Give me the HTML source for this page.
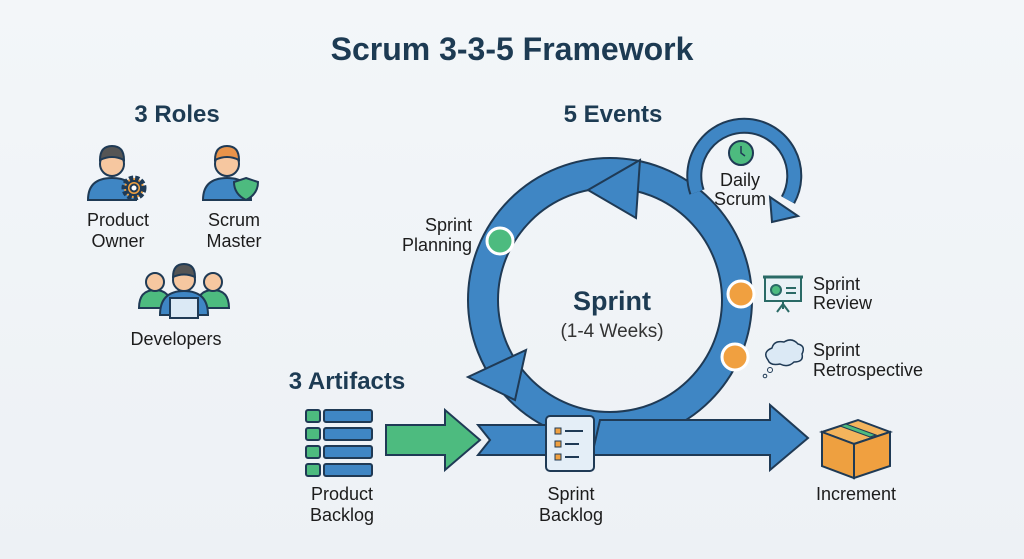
<!DOCTYPE html>
<html><head><meta charset="utf-8"><style>
body{margin:0;width:1024px;height:559px;background:linear-gradient(180deg,#f3f6f9,#edf1f5);overflow:hidden}
svg{display:block}
text{font-family:"Liberation Sans",sans-serif;fill:#1c1c1c}
.h{font-weight:bold;fill:#1d3b53}
</style></head><body>
<svg width="1024" height="559" viewBox="0 0 1024 559">
<text x="512" y="60" text-anchor="middle" class="h" font-size="32">Scrum 3-3-5 Framework</text>
<text x="177" y="122" text-anchor="middle" class="h" font-size="24">3 Roles</text>
<text x="613" y="122" text-anchor="middle" class="h" font-size="24">5 Events</text>
<text x="347" y="389" text-anchor="middle" class="h" font-size="24">3 Artifacts</text>

<g stroke="#1f3a55" stroke-width="2">
 <path d="M88 200 q0-22 24-22 q24 0 24 22z" fill="#3f86c4"/>
 <circle cx="112" cy="164" r="12" fill="#f6c7a0"/>
 <path d="M100 160 q0-14 12-14 q12 0 12 14 q-12-6-24 0z" fill="#555"/>
 <circle cx="134" cy="188" r="10" fill="#f0a040" stroke-dasharray="4 2" stroke-width="5"/>
 <circle cx="134" cy="188" r="7" fill="#f0a040"/><circle cx="134" cy="188" r="3.5" fill="#fff"/>
 <path d="M203 200 q0-22 24-22 q24 0 24 22z" fill="#3f86c4"/>
 <circle cx="227" cy="164" r="12" fill="#f6c7a0"/>
 <path d="M215 160 q0-14 12-14 q12 0 12 14 q-12-6-24 0z" fill="#e8934a"/>
 <path d="M246 178 l12 4 q0 12 -12 18 q-12-6-12-18z" fill="#4dbb7f"/>
 <path d="M139 308 q0-18 16-18 q16 0 16 18z M197 308 q0-18 16-18 q16 0 16 18z" fill="#4dbb7f"/>
 <circle cx="155" cy="282" r="9" fill="#f6c7a0"/><circle cx="213" cy="282" r="9" fill="#f6c7a0"/>
 <path d="M160 315 q0-24 24-24 q24 0 24 24z" fill="#3f86c4"/>
 <circle cx="184" cy="280" r="11" fill="#f6c7a0"/>
 <path d="M173 277 q0-13 11-13 q11 0 11 13 q-11-5-22 0z" fill="#555"/>
 <rect x="170" y="298" width="28" height="20" fill="#dbe9f5"/>
</g>
<text x="118" y="226" text-anchor="middle" font-size="18">Product</text>
<text x="118" y="247" text-anchor="middle" font-size="18">Owner</text>
<text x="234" y="226" text-anchor="middle" font-size="18">Scrum</text>
<text x="234" y="247" text-anchor="middle" font-size="18">Master</text>
<text x="176" y="345" text-anchor="middle" font-size="18">Developers</text>

<!-- ring -->
<circle cx="610" cy="300" r="127" fill="none" stroke="#1f3a55" stroke-width="32"/>
<circle cx="610" cy="300" r="127" fill="none" stroke="#3f86c4" stroke-width="28"/>
<!-- daily loop -->
<path d="M697 192 A50 50 0 1 1 788 200" fill="none" stroke="#1f3a55" stroke-width="16"/>
<path d="M697 192 A50 50 0 1 1 788 200" fill="none" stroke="#3f86c4" stroke-width="12"/>
<polygon points="772,222 770,197 798,216" fill="#3f86c4" stroke="#1f3a55" stroke-width="2"/>
<!-- arrowheads on ring -->
<polygon points="588,190 640,160 636,218" fill="#3f86c4" stroke="#1f3a55" stroke-width="2"/>
<polygon points="515,400 468,377 526,350" fill="#3f86c4" stroke="#1f3a55" stroke-width="2"/>
<!-- horizontal band -->
<polygon points="478,425 590,425 590,455 478,455 490,440" fill="#3f86c4" stroke="#1f3a55" stroke-width="2"/>
<polygon points="600,420 770,420 770,405 808,438 770,470 770,455 592,455" fill="#3f86c4" stroke="#1f3a55" stroke-width="2"/>
<polygon points="386,425 445,425 445,410 480,440 445,470 445,455 386,455" fill="#4dbb7f" stroke="#1f3a55" stroke-width="2"/>

<circle cx="500" cy="241" r="13" fill="#4dbb7f" stroke="#fff" stroke-width="3"/>
<circle cx="741" cy="294" r="13" fill="#f0a040" stroke="#fff" stroke-width="3"/>
<circle cx="735" cy="357" r="13" fill="#f0a040" stroke="#fff" stroke-width="3"/>
<circle cx="741" cy="153" r="12" fill="#4dbb7f" stroke="#1f3a55" stroke-width="2"/>
<path d="M741 146v7l4 3" stroke="#1f3a55" stroke-width="1.5" fill="none"/>
<text x="740" y="186" text-anchor="middle" font-size="18">Daily</text>
<text x="740" y="205" text-anchor="middle" font-size="18">Scrum</text>
<text x="472" y="231" text-anchor="end" font-size="18">Sprint</text>
<text x="472" y="251" text-anchor="end" font-size="18">Planning</text>
<text x="612" y="310" text-anchor="middle" class="h" font-size="27">Sprint</text>
<text x="612" y="337" text-anchor="middle" font-size="19" style="fill:#333">(1-4 Weeks)</text>
<g stroke="#2a6a66" stroke-width="2" fill="none">
 <rect x="765" y="277" width="36" height="24" fill="#e8f1f6"/><line x1="763" y1="277" x2="803" y2="277" stroke-width="3"/>
 <path d="M783 301v8 M783 304l-6 8 M783 304l6 8"/>
 <circle cx="776" cy="290" r="5" fill="#4dbb7f"/><path d="M786 288h10M786 293h10"/>
</g>
<path d="M768 360 q-6-8 4-12 q2-8 12-6 q8-5 14 2 q8 2 4 10 q2 8-8 8 q-6 6-14 2 q-10 2-12-4z" fill="#dbe9f5" stroke="#1f3a55" stroke-width="1.5"/>
<circle cx="770" cy="370" r="2.5" fill="none" stroke="#1f3a55"/><circle cx="765" cy="376" r="1.8" fill="none" stroke="#1f3a55"/>
<text x="813" y="290" font-size="18">Sprint</text>
<text x="813" y="309" font-size="18">Review</text>
<text x="813" y="356" font-size="18">Sprint</text>
<text x="813" y="376" font-size="18">Retrospective</text>

<g stroke="#1f3a55" stroke-width="2">
 <rect x="306" y="410" width="14" height="12" rx="2" fill="#4dbb7f"/><rect x="324" y="410" width="48" height="12" rx="2" fill="#3f86c4"/>
 <rect x="306" y="428" width="14" height="12" rx="2" fill="#4dbb7f"/><rect x="324" y="428" width="48" height="12" rx="2" fill="#3f86c4"/>
 <rect x="306" y="446" width="14" height="12" rx="2" fill="#4dbb7f"/><rect x="324" y="446" width="48" height="12" rx="2" fill="#3f86c4"/>
 <rect x="306" y="464" width="14" height="12" rx="2" fill="#4dbb7f"/><rect x="324" y="464" width="48" height="12" rx="2" fill="#3f86c4"/>
</g>
<rect x="546" y="416" width="48" height="55" rx="4" fill="#e4eef7" stroke="#1f3a55" stroke-width="2"/>
<g fill="#f0a040" stroke="#1f3a55" stroke-width="1"><rect x="555" y="428" width="6" height="6"/><rect x="555" y="441" width="6" height="6"/><rect x="555" y="454" width="6" height="6"/></g>
<path d="M565 431h18M565 444h14M565 457h14" stroke="#1f3a55" stroke-width="2"/>
<g stroke="#1f3a55" stroke-width="2">
 <polygon points="822,432 858,420 890,432 854,444" fill="#f4b45c"/>
 <polygon points="822,432 854,444 854,478 822,466" fill="#eea040"/>
 <polygon points="854,444 890,432 890,466 854,478" fill="#f0a040"/>
 <polygon points="840,426 870,437 876,435 846,424" fill="#4dbb7f" stroke-width="1"/>
</g>
<text x="342" y="500" text-anchor="middle" font-size="18">Product</text>
<text x="342" y="521" text-anchor="middle" font-size="18">Backlog</text>
<text x="571" y="500" text-anchor="middle" font-size="18">Sprint</text>
<text x="571" y="521" text-anchor="middle" font-size="18">Backlog</text>
<text x="856" y="500" text-anchor="middle" font-size="18">Increment</text>
</svg>
</body></html>
